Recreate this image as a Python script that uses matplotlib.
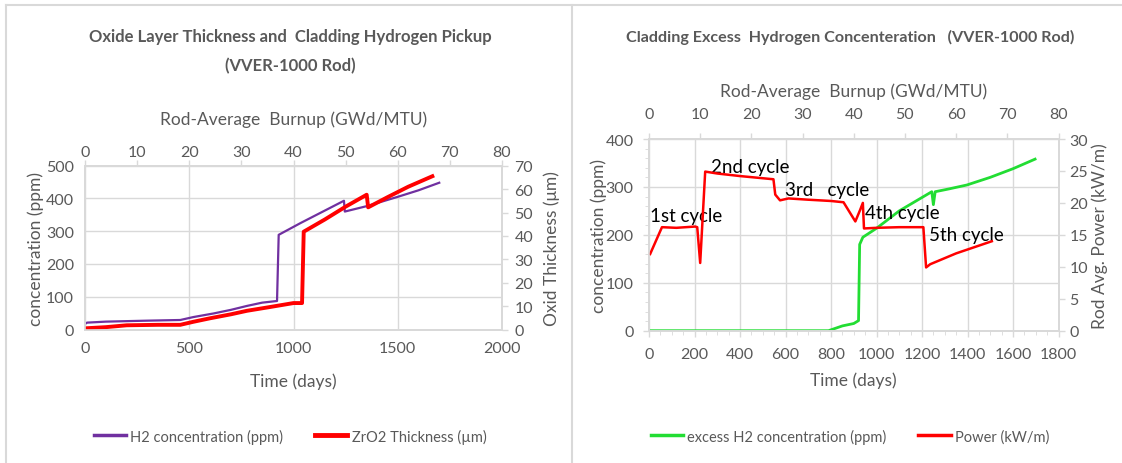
import matplotlib
matplotlib.use("Agg")
import matplotlib.pyplot as plt
from matplotlib.lines import Line2D

plt.rcParams['font.family'] = ['Lato', 'DejaVu Sans']

# ---------------- data: left chart ----------------
h2_days = [0, 10, 100, 300, 457, 520, 617, 700, 777, 850, 921, 929, 1034, 1242, 1246, 1354, 1500, 1600, 1699]
h2_ppm = [17, 21, 24, 27, 29, 38, 49, 60, 72, 82, 87, 289, 325, 393, 360, 377, 405, 425, 448]

zro2_days = [0, 100, 200, 350, 457, 520, 600, 700, 777, 880, 1000, 1041, 1049, 1150, 1250, 1351, 1358, 1450, 1550, 1666]
zro2_um = [0.5, 1.0, 1.8, 2.0, 2.0, 3.3, 4.8, 6.5, 8.0, 9.5, 11.3, 11.3, 41.8, 47.0, 52.5, 57.6, 52.2, 56.5, 61.0, 65.5]

# ---------------- data: right chart ----------------
exh2_days = [0, 789, 850, 900, 921, 926, 940, 1001, 1100, 1243, 1250, 1258, 1320, 1397, 1500, 1600, 1697]
exh2_ppm = [0, 0, 10, 15, 21, 180, 195, 214, 250, 290, 263, 290, 296, 304, 320, 338, 358]

pow_days = [5, 57, 120, 203, 212, 225, 247, 300, 400, 547, 555, 576, 613, 700, 800, 855, 907, 928, 940, 945, 1000, 1100, 1206, 1218, 1236, 1350, 1507]
pow_kwm = [12.0, 16.2, 16.1, 16.3, 16.2, 10.6, 24.9, 24.6, 24.2, 23.7, 21.3, 20.4, 20.7, 20.5, 20.3, 20.1, 17.1, 18.9, 20.0, 16.0, 16.1, 16.2, 16.2, 9.9, 10.4, 12.1, 14.0]

cycle_labels = ["1st cycle", "2nd cycle", "3rd   cycle", "4th cycle", "5th cycle"]
cycle_x = [4, 273, 598, 949, 1231]
cycle_y = [240, 342, 294, 246, 201]

GREY = '#595959'
GRID = '#d9d9d9'
TICK_FS = 11.5
LAB_FS = 12.5

fig = plt.figure(figsize=(11.22, 4.64), dpi=100)
W, H = 1122, 464

def ax_rect(x0, x1, y0, y1):
    return [x0 / W, 1 - y1 / H, (x1 - x0) / W, (y1 - y0) / H]

def style(ax):
    for s in ax.spines.values():
        s.set_color(GRID)
        s.set_linewidth(1.2)
    ax.tick_params(colors=GREY, labelsize=TICK_FS, length=4, width=1, color=GRID)

# ---------- LEFT ----------
axL = fig.add_axes(ax_rect(85, 502, 166.7, 330.5))
axL.plot(h2_days, h2_ppm, color='#7030A0', lw=1.6, zorder=3)
axL.set_xlim(0, 2000)
axL.set_ylim(0, 500)
axL.set_xticks(range(0, 2001, 500))
axL.set_yticks(range(0, 501, 100))
axL.grid(True, color=GRID, lw=1)
axL.set_axisbelow(True)
style(axL)
axL.tick_params(axis='both', length=0)
axL.tick_params(axis='x', pad=8)
axL.tick_params(axis='y', pad=8)
axL.set_xlabel('Time (days)', color=GREY, fontsize=LAB_FS, labelpad=13)
axL.set_ylabel('concentration (ppm)', color=GREY, fontsize=LAB_FS, labelpad=1)

axLr = axL.twinx()
axLr.plot(zro2_days, zro2_um, color='#ff0000', lw=2.8, zorder=3)
axLr.set_ylim(0, 70)
axLr.set_yticks(range(0, 71, 10))
style(axLr)
axLr.tick_params(axis='y', pad=5)
axLr.set_ylabel('Oxid Thickness (\u03bcm)', color=GREY, fontsize=LAB_FS, labelpad=7)

axLt = axL.twiny()
axLt.set_xlim(0, 80)
axLt.set_xticks(range(0, 81, 10))
style(axLt)
axLt.tick_params(axis='x', pad=1)
axLt.set_xlabel('Rod-Average  Burnup (GWd/MTU)', color=GREY, fontsize=LAB_FS, labelpad=15)

fig.text(290 / W, 1 - 37 / H, 'Oxide Layer Thickness and  Cladding Hydrogen Pickup',
         ha='center', va='center', fontsize=12, fontweight='bold', color=GREY)
fig.text(290 / W, 1 - 66 / H, '(VVER-1000 Rod)',
         ha='center', va='center', fontsize=12, fontweight='bold', color=GREY)

hL = [Line2D([], [], color='#7030A0', lw=2.5), Line2D([], [], color='#ff0000', lw=3.5)]
fig.legend(hL, ['H2 concentration (ppm)', 'ZrO2 Thickness (\u00b5m)'],
           loc='center', bbox_to_anchor=(290 / W, 1 - 437 / H), ncol=2, frameon=False,
           fontsize=10.5, labelcolor=GREY, handlelength=2.2, columnspacing=2.2, handletextpad=0.3)

# ---------- RIGHT ----------
axR = fig.add_axes(ax_rect(649, 1058.5, 140, 331.7))
axR.plot(exh2_days, exh2_ppm, color='#22dd33', lw=2.0, zorder=3)
axR.set_xlim(0, 1800)
axR.set_ylim(0, 400)
axR.set_xticks(range(0, 1801, 200))
axR.set_xticks(range(0, 1801, 50), minor=True)
axR.set_yticks(range(0, 401, 100))
axR.set_yticks(range(0, 401, 20), minor=True)
axR.grid(True, which='major', color=GRID, lw=1)
axR.set_axisbelow(True)
style(axR)
axR.tick_params(which='minor', length=3, color=GRID)
axR.tick_params(which='major', length=4)
axR.tick_params(axis='x', which='major', pad=8)
axR.tick_params(axis='y', which='major', pad=7)
axR.set_xlabel('Time (days)', color=GREY, fontsize=LAB_FS, labelpad=7)
axR.set_ylabel('concentration (ppm)', color=GREY, fontsize=LAB_FS, labelpad=-1)

axRr = axR.twinx()
axRr.plot(pow_days, pow_kwm, color='#ff0000', lw=1.8, zorder=3)
axRr.set_ylim(0, 30)
axRr.set_yticks(range(0, 31, 5))
style(axRr)
axRr.tick_params(axis='y', pad=4)
axRr.set_ylabel('Rod Avg. Power (kW/m)', color=GREY, fontsize=LAB_FS, labelpad=2)

for lab, x, y in zip(cycle_labels, cycle_x, cycle_y):
    axR.text(x, y, lab, fontsize=13.5, color='black', ha='left', va='center', zorder=5)

axRt = axR.twiny()
axRt.set_xlim(0, 80)
axRt.set_xticks(range(0, 81, 10))
style(axRt)
axRt.tick_params(axis='x', pad=9)
axRt.set_xlabel('Rod-Average  Burnup (GWd/MTU)', color=GREY, fontsize=LAB_FS, labelpad=8)

fig.text(850 / W, 1 - 37 / H, 'Cladding Excess  Hydrogen Concenteration   (VVER-1000 Rod)',
         ha='center', va='center', fontsize=11.6, fontweight='bold', color=GREY)

hR = [Line2D([], [], color='#22dd33', lw=2.5), Line2D([], [], color='#ff0000', lw=2.5)]
fig.legend(hR, ['excess H2 concentration (ppm)', 'Power (kW/m)'],
           loc='center', bbox_to_anchor=(850 / W, 1 - 437 / H), ncol=2, frameon=False,
           fontsize=10.5, labelcolor=GREY, handlelength=2.2, columnspacing=2.2, handletextpad=0.3)

# panel borders
fig.add_artist(Line2D([6 / W, 1], [1 - 6 / H, 1 - 6 / H], color=GRID, lw=1.5))
fig.add_artist(Line2D([6 / W, 6 / W], [0, 1 - 6 / H], color=GRID, lw=1.5))
fig.add_artist(Line2D([572 / W, 572 / W], [0, 1 - 6 / H], color=GRID, lw=1.5))

fig.savefig('out.png', dpi=100)
